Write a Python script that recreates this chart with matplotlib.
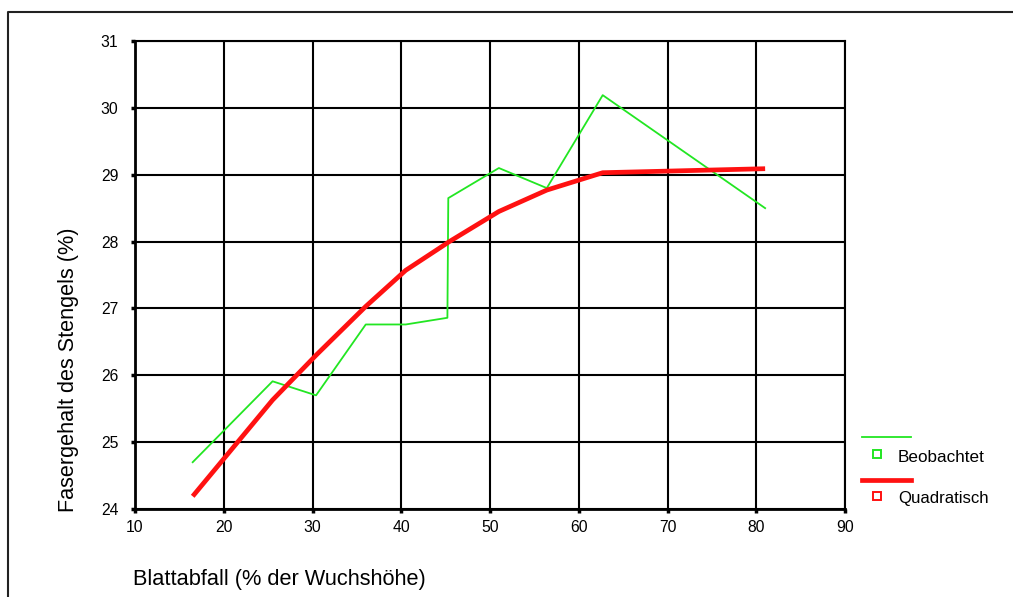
import matplotlib
matplotlib.use("Agg")
import matplotlib.pyplot as plt
from matplotlib.lines import Line2D

plt.rcParams['font.family'] = ['Liberation Sans', 'DejaVu Sans']

# Leaf drop (% of plant height) vs. stem fibre content (%)
blattabfall = [16.5, 25.5, 30.4, 36.0, 40.5, 45.2, 45.3, 51.0, 56.4, 62.7, 81.0]
beobachtet = [24.70, 25.91, 25.70, 26.76, 26.76, 26.86, 28.65, 29.10, 28.80, 30.19, 28.50]
quadratisch = [24.19, 25.63, 26.30, 27.03, 27.57, 27.98, 27.99, 28.45, 28.77, 29.03, 29.09]

x_ticks = [10, 20, 30, 40, 50, 60, 70, 80, 90]
y_ticks = [24, 25, 26, 27, 28, 29, 30, 31]

W, H = 1013, 597
fig = plt.figure(figsize=(W / 100, H / 100), dpi=100)


def fx(px):
    return px / W


def fy(py):
    return 1 - py / H


ax = fig.add_axes([fx(135), fy(509), (845 - 135) / W, (509 - 41) / H])
ax.set_xlim(10, 90)
ax.set_ylim(24, 31)
ax.set_xticks(x_ticks)
ax.set_yticks(y_ticks)
ax.grid(True, color='black', linewidth=1.5)
ax.set_axisbelow(True)
for side in ['top', 'right']:
    ax.spines[side].set_linewidth(1.5)
for side in ['left', 'bottom']:
    ax.spines[side].set_linewidth(2.0)
ax.tick_params(direction='out', length=3, width=2.5, labelsize=11.3)
ax.tick_params(axis='x', pad=5)
ax.tick_params(axis='y', pad=9)

ax.plot(blattabfall, beobachtet, color='#22e622', linewidth=1.3, zorder=3)
ax.plot(blattabfall, quadratisch, color='#ff1111', linewidth=3.4,
        solid_capstyle='butt', solid_joinstyle='round', zorder=4)

# Axis titles
fig.text(fx(69), fy(512), 'Fasergehalt des Stengels (%)', rotation=90,
         ha='center', va='bottom', fontsize=15.6)
fig.text(fx(133), fy(579), 'Blattabfall (% der Wuchshöhe)',
         ha='left', va='center', fontsize=15.7)

# Legend
fig.add_artist(Line2D([fx(862), fx(911)], [fy(437), fy(437)],
                      color='#22e622', linewidth=1.3))
fig.add_artist(Line2D([fx(877)], [fy(454)], marker='s', markersize=6,
                      markerfacecolor='white', markeredgecolor='#22e622',
                      markeredgewidth=1.4, linestyle='none'))
fig.text(fx(898), fy(457), 'Beobachtet', ha='left', va='center', fontsize=12.3)
fig.add_artist(Line2D([fx(862), fx(911)], [fy(480), fy(480)],
                      color='#ff1111', linewidth=3.4))
fig.add_artist(Line2D([fx(877)], [fy(496)], marker='s', markersize=6,
                      markerfacecolor='white', markeredgecolor='#ff1111',
                      markeredgewidth=1.4, linestyle='none'))
fig.text(fx(898), fy(499), 'Quadratisch', ha='left', va='center', fontsize=12.1)

# Outer frame
fig.add_artist(Line2D([fx(8), fx(8), fx(W + 5)], [fy(H + 5), fy(12), fy(12)],
                      color='#222222', linewidth=1.5))

fig.savefig('out.png', dpi=100)
